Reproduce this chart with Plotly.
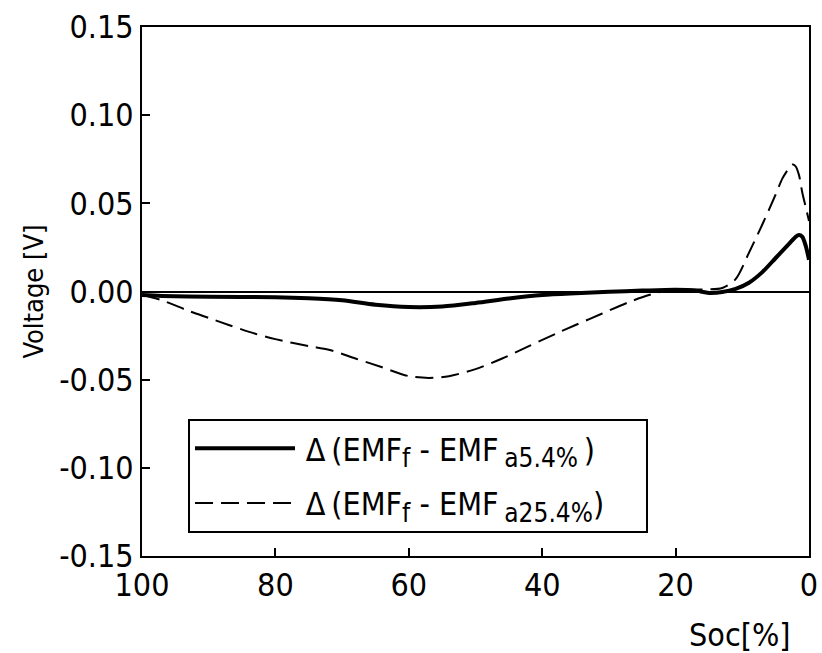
import plotly.graph_objects as go

soc_a = [100, 97, 90, 80, 75, 70, 65, 60, 55, 50, 45, 40, 35, 30, 25, 20, 17, 15, 13, 11, 9, 7, 5, 3, 2, 1.5, 1, 0.5, 0]
v_a = [-0.002, -0.0025, -0.003, -0.0032, -0.0038, -0.005, -0.0075, -0.0088, -0.0085, -0.0065, -0.004, -0.002,
       -0.001, -0.0002, 0.0005, 0.001, 0.0005, -0.0008, -0.0003, 0.0015, 0.005, 0.011, 0.019, 0.027, 0.031, 0.032,
       0.031, 0.026, 0.018]

soc_b = [100, 97, 93, 90, 87, 83, 80, 75, 72, 68, 64, 60, 57, 54, 50, 46, 42, 38, 35, 31, 27, 24, 22, 20, 16, 13,
         11, 9, 7, 5, 4, 3, 2.5, 2, 1.5, 1, 0.5, 0]
v_b = [-0.002, -0.005, -0.011, -0.015, -0.019, -0.024, -0.027, -0.031, -0.033, -0.038, -0.043, -0.048, -0.049,
       -0.048, -0.044, -0.038, -0.031, -0.024, -0.019, -0.0125, -0.006, -0.002, 0.0, 0.001, 0.0012, 0.002,
       0.007, 0.022, 0.038, 0.055, 0.064, 0.070, 0.072, 0.071, 0.066, 0.056, 0.048, 0.040]

SUB = "<sub><span style='font-size:26px'>{}</span></sub>"
name_a = "\u2009Δ\u2009(EMF" + SUB.format("f") + " - EMF\u2009" + SUB.format("a5.4%") + "\u2009)\u00a0\u00a0\u00a0\u00a0"
name_b = "\u2009Δ\u2009(EMF" + SUB.format("f") + " - EMF\u2009" + SUB.format("a25.4%") + ")\u00a0\u00a0\u00a0\u00a0"

x_ticks = [100, 80, 60, 40, 20, 0]
y_ticks = [-0.15, -0.10, -0.05, 0.0, 0.05, 0.10, 0.15]

FONT = "DejaVu Sans Condensed, DejaVu Sans, Verdana, sans-serif"

fig = go.Figure()
fig.add_trace(go.Scatter(x=soc_a, y=v_a, mode="lines", name=name_a, legendgroup="a",
                         line=dict(color="black", width=4, shape="spline", smoothing=0.8)))
fig.add_trace(go.Scatter(x=soc_b, y=v_b, mode="lines", name=name_b, legendgroup="b",
                         line=dict(color="black", width=2, dash="18px,8px", shape="spline", smoothing=0.8)))

fig.update_layout(
    width=822, height=653,
    margin=dict(l=142, r=13, t=27, b=97, autoexpand=False),
    paper_bgcolor="white", plot_bgcolor="white",
    font=dict(family=FONT, size=32, color="black"),
    showlegend=True,
    legend=dict(x=0.069, y=0.259, xanchor="left", yanchor="top",
                bgcolor="white", bordercolor="black", borderwidth=2,
                font=dict(size=32), itemwidth=100, tracegroupgap=10),
    xaxis=dict(range=[100, 0], tickvals=x_ticks, ticktext=[str(v) for v in x_ticks],
               showgrid=False, zeroline=False, showline=True, mirror=True, automargin=False,
               linecolor="black", linewidth=2, ticks="inside", ticklen=8, tickwidth=2,
               tickcolor="black", tickfont=dict(size=32)),
    yaxis=dict(range=[-0.15, 0.15], tickvals=y_ticks, ticktext=[f"{v:.2f}" for v in y_ticks],
               showgrid=False, zeroline=True, zerolinecolor="black", zerolinewidth=1.5,
               showline=True, mirror=True, linecolor="black", linewidth=2, automargin=False,
               ticks="inside", ticklen=8, tickwidth=2, tickcolor="black", tickfont=dict(size=32),
               title=dict(text="Voltage [V]", font=dict(size=27), standoff=8)),
    annotations=[dict(text="Soc[%]", xref="paper", yref="paper", x=0.897, y=-0.15,
                      xanchor="center", yanchor="middle", showarrow=False, font=dict(size=32))],
)

fig.write_html("out.html")
